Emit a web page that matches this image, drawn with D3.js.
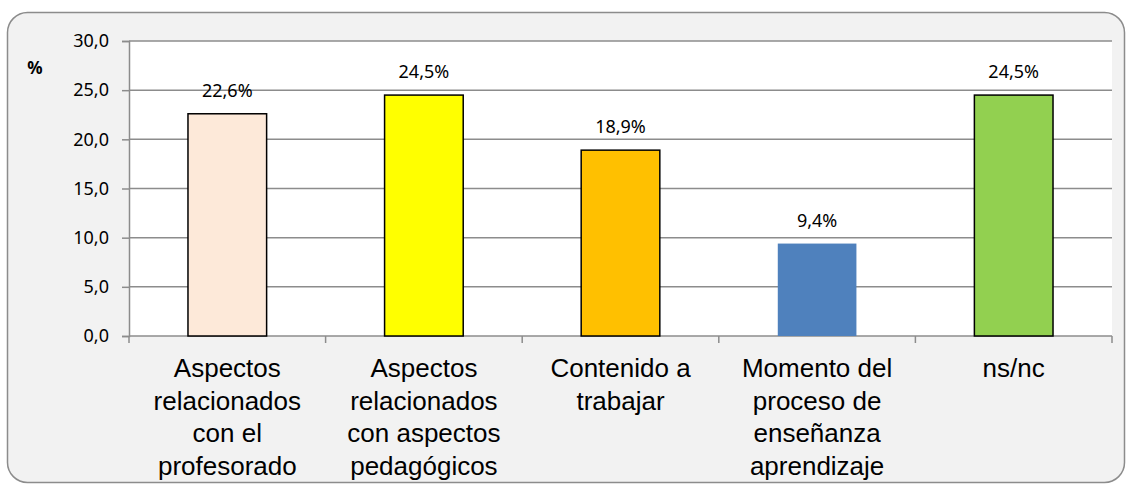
<!DOCTYPE html>
<html>
<head>
<meta charset="utf-8">
<script src="https://cdn.jsdelivr.net/npm/d3@7"></script>
<style>
  body { margin: 0; background: #fff; }
  svg { display: block; }
</style>
</head>
<body>
<div id="chart"></div>
<script>
const categories = [
  "Aspectos relacionados con el profesorado",
  "Aspectos relacionados con aspectos pedagógicos",
  "Contenido a trabajar",
  "Momento del proceso de enseñanza aprendizaje",
  "ns/nc"
];
const categoryLines = [
  ["Aspectos", "relacionados", "con el", "profesorado"],
  ["Aspectos", "relacionados", "con aspectos", "pedagógicos"],
  ["Contenido a", "trabajar"],
  ["Momento del", "proceso de", "enseñanza", "aprendizaje"],
  ["ns/nc"]
];
const values = [22.6, 24.5, 18.9, 9.4, 24.5];
const barColors = ["#fde9d9", "#ffff00", "#ffc000", "#4f81bd", "#92d050"];
const barBorders = [true, true, true, false, true];
const yTicks = [0, 5, 10, 15, 20, 25, 30];

const W = 1128, H = 486;
const plot = { left: 129, top: 41, right: 1112, bottom: 336 };

const svg = d3.select("#chart").append("svg")
    .attr("width", W)
    .attr("height", H);

// outer chart frame
svg.append("rect")
    .attr("x", 7.5).attr("y", 12.5)
    .attr("width", 1117).attr("height", 470)
    .attr("rx", 20).attr("ry", 20)
    .attr("fill", "#f2f2f2")
    .attr("stroke", "#8c8c8c")
    .attr("stroke-width", 1.5);

// plot area
svg.append("rect")
    .attr("x", plot.left).attr("y", plot.top)
    .attr("width", plot.right - plot.left)
    .attr("height", plot.bottom - plot.top)
    .attr("fill", "#fff");

const x = d3.scaleBand()
    .domain(categories)
    .range([plot.left, plot.right])
    .paddingInner(0.6)
    .paddingOuter(0.3);

const y = d3.scaleLinear()
    .domain([0, 30])
    .range([plot.bottom, plot.top]);

const fmt = d => d3.format(".1f")(d).replace(".", ",");

// gridlines
svg.append("g")
    .selectAll("line")
    .data(yTicks.slice(1))
    .join("line")
    .attr("x1", plot.left).attr("x2", plot.right)
    .attr("y1", d => y(d)).attr("y2", d => y(d))
    .attr("stroke", "#8c8c8c")
    .attr("stroke-width", 1.5);

// y axis
const yAxis = svg.append("g")
    .attr("transform", `translate(${plot.left},0)`)
    .call(d3.axisLeft(y).tickValues(yTicks).tickSize(7).tickPadding(13).tickFormat(fmt));
yAxis.select(".domain").attr("stroke", "#8c8c8c").attr("stroke-width", 1.5);
yAxis.selectAll(".tick line").attr("stroke", "#8c8c8c").attr("stroke-width", 1.5);
yAxis.selectAll(".tick text")
    .attr("fill", "#000")
    .style("font-family", "'Noto Sans', sans-serif")
    .style("font-size", "18px");

svg.append("text")
    .attr("x", 35).attr("y", 74)
    .attr("text-anchor", "middle")
    .style("font-family", "'Noto Sans', sans-serif")
    .style("font-size", "17px")
    .style("font-weight", "bold")
    .text("%");

// x axis line and category boundary ticks
const boundaries = d3.range(categories.length + 1)
    .map(i => plot.left + i * (plot.right - plot.left) / categories.length);
svg.append("line")
    .attr("x1", plot.left).attr("x2", plot.right)
    .attr("y1", plot.bottom).attr("y2", plot.bottom)
    .attr("stroke", "#8c8c8c")
    .attr("stroke-width", 1.5);
svg.append("g")
    .selectAll("line")
    .data(boundaries)
    .join("line")
    .attr("x1", d => d).attr("x2", d => d)
    .attr("y1", plot.bottom).attr("y2", plot.bottom + 7)
    .attr("stroke", "#8c8c8c")
    .attr("stroke-width", 1.5);

// bars
svg.append("g")
    .selectAll("rect")
    .data(values)
    .join("rect")
    .attr("x", (d, i) => x(categories[i]))
    .attr("y", d => y(d))
    .attr("width", x.bandwidth())
    .attr("height", d => y(0) - y(d))
    .attr("fill", (d, i) => barColors[i])
    .attr("stroke", (d, i) => barBorders[i] ? "#000" : "none")
    .attr("stroke-width", 1.5);

// value labels
svg.append("g")
    .selectAll("text")
    .data(values)
    .join("text")
    .attr("x", (d, i) => x(categories[i]) + x.bandwidth() / 2)
    .attr("y", d => y(d) - 17)
    .attr("text-anchor", "middle")
    .style("font-family", "'Noto Sans', sans-serif")
    .style("font-size", "18px")
    .text(d => fmt(d) + "%");

// category labels
const labels = svg.append("g")
    .selectAll("text")
    .data(categoryLines)
    .join("text")
    .attr("text-anchor", "middle")
    .style("font-family", "'Liberation Sans', Arial, sans-serif")
    .style("font-size", "26px")
    .attr("transform", (d, i) => `translate(${x(categories[i]) + x.bandwidth() / 2},377)`);

labels.selectAll("tspan")
    .data(d => d)
    .join("tspan")
    .attr("x", 0)
    .attr("y", (d, i) => i * 32.5)
    .text(d => d);
</script>
</body>
</html>
